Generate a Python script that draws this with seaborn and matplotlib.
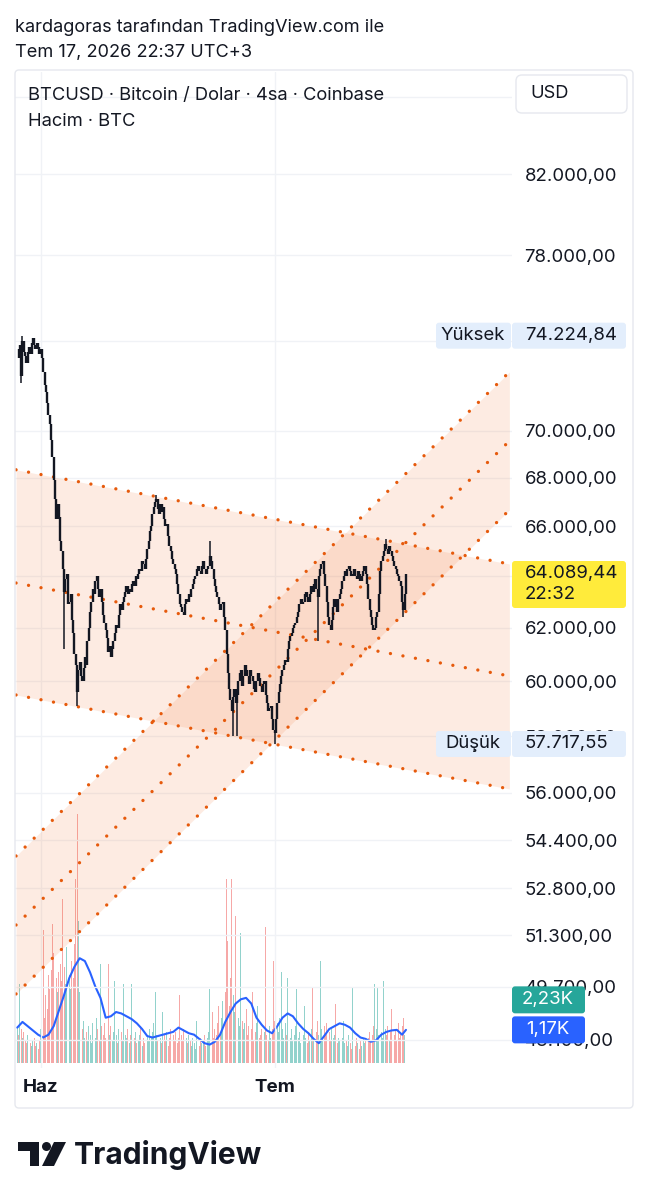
import matplotlib
matplotlib.use("Agg")
import matplotlib.pyplot as plt
import matplotlib.dates as mdates
from matplotlib.patches import FancyBboxPatch, Polygon, Circle
from matplotlib.ticker import NullLocator
import pandas as pd
import seaborn as sns

sns.set_theme(style="white")
plt.rcParams["font.family"] = ["Inter", "DejaVu Sans"]

# ---- data (prices in thousands USD, volume in thousands BTC) ----
first_candle = "2026-05-28 23:00"   # 4h candles, UTC+3

close_k = [
    73.6, 73.2, 73.8, 72.4, 74.0, 73.5, 73.3, 73.0, 73.5, 73.7,
    73.4, 73.9, 74.1, 73.8, 73.6, 73.9, 73.7, 73.4, 73.6, 73.2,
    72.6, 72.0, 71.7, 71.2, 70.7, 70.3, 69.6, 68.9, 67.9, 67.1,
    66.3, 66.9, 66.4, 65.4, 65.0, 64.3, 63.4, 63.9, 64.1, 62.9,
    63.0, 63.3, 62.3, 61.8, 61.0, 60.6, 59.6, 60.4, 60.7, 60.2,
    60.0, 60.5, 60.9, 60.6, 61.5, 62.0, 62.6, 63.0, 63.5, 63.3,
    63.8, 64.0, 63.5, 63.2, 63.5, 63.0, 62.5, 62.2, 61.9, 61.6,
    61.1, 61.3, 60.9, 61.2, 61.5, 61.8, 62.1, 62.0, 62.5, 62.9,
    62.7, 63.0, 63.2, 63.4, 63.6, 63.3, 63.5, 63.4, 63.7, 63.8,
    63.6, 64.0, 63.9, 64.1, 64.3, 64.2, 64.6, 64.5, 64.3, 64.7,
    65.1, 65.4, 65.8, 66.0, 66.5, 66.8, 67.0, 67.1, 66.7, 66.5,
    66.9, 66.6, 66.8, 66.3, 66.0, 66.1, 65.6, 65.2, 65.0, 64.7,
    64.5, 64.3, 64.1, 63.7, 63.3, 62.9, 62.8, 62.6, 62.5, 62.9,
    63.1, 63.0, 63.3, 63.2, 63.5, 63.7, 63.9, 64.0, 64.3, 64.4,
    64.2, 64.1, 64.4, 64.6, 64.3, 64.1, 64.3, 64.4, 64.8, 64.6,
    64.3, 63.9, 63.6, 63.4, 63.2, 62.9, 62.7, 62.9, 63.0, 62.4,
    61.9, 61.0, 60.3, 59.7, 59.3, 58.9, 59.4, 59.7, 59.2, 59.5,
    60.0, 60.3, 60.4, 59.8, 60.2, 60.6, 60.4, 60.2, 59.9, 60.4,
    60.2, 60.0, 59.7, 59.6, 60.0, 60.3, 60.1, 59.8, 59.6, 59.9,
    60.0, 59.5, 59.2, 58.9, 59.0, 59.1, 58.6, 58.2, 58.1, 58.6,
    59.2, 59.6, 59.9, 60.2, 60.4, 60.6, 60.8, 60.7, 61.2, 61.5,
    61.7, 61.8, 62.0, 62.1, 62.2, 62.4, 62.6, 62.9, 63.1, 62.9,
    63.0, 63.3, 63.4, 63.2, 63.0, 63.3, 63.6, 63.4, 63.7, 63.9,
    63.5, 63.2, 64.0, 64.3, 64.5, 64.6, 64.1, 63.6, 63.0, 62.4,
    62.1, 61.9, 62.3, 62.8, 63.1, 62.8, 62.6, 63.1, 63.3, 63.5,
    63.8, 64.0, 64.2, 64.0, 64.3, 64.4, 64.2, 64.0, 64.1, 64.3,
    64.0, 63.9, 64.2, 64.1, 63.8, 64.0, 64.2, 64.4, 64.1, 63.7,
    63.1, 62.7, 62.4, 62.1, 61.9, 62.0, 62.4, 62.6, 63.3, 64.2,
    64.6, 64.8, 65.0, 65.3, 65.1, 64.9, 65.2, 65.0, 64.8, 64.6,
    64.4, 64.3, 64.1, 64.0, 63.8, 63.6, 63.0, 62.7, 63.3, 64.08944,
]

# long wicks (candle index, wick end)
wick_idx = [3, 4, 36, 46, 107, 148, 166, 169, 198, 231, 284, 297]
wick_k = [72.1, 74.22484, 61.2, 59.1, 67.3, 65.4, 58.0, 58.0, 57.71755, 61.5, 65.5, 62.4]

volume_k = [
    1.3, 1.0, 2.8, 1.2, 0.9, 1.1, 0.8, 0.7, 1.0, 0.8,
    0.7, 0.6, 0.8, 0.9, 0.6, 0.7, 0.5, 0.8, 1.2, 0.9,
    4.7, 1.6, 2.4, 1.9, 3.1, 2.6, 3.3, 4.9, 3.9, 2.7,
    3.0, 2.5, 3.2, 3.5, 2.9, 5.8, 3.4, 2.8, 4.1, 5.2,
    3.1, 2.6, 3.6, 3.0, 4.2, 6.5, 8.8, 5.0, 2.5, 1.8,
    1.2, 1.5, 0.9, 1.1, 0.8, 1.3, 1.0, 0.7, 1.4, 1.1,
    0.9, 1.6, 1.2, 0.8, 3.5, 1.3, 1.0, 1.4, 0.9, 1.2,
    3.5, 1.0, 1.3, 0.8, 1.1, 2.9, 1.0, 0.7, 1.2, 0.9,
    1.1, 0.8, 2.8, 1.0, 0.9, 1.2, 0.7, 1.0, 2.8, 0.8,
    0.9, 1.1, 0.7, 0.8, 1.0, 1.3, 0.6, 0.9, 0.7, 0.8,
    1.0, 0.8, 1.2, 0.9, 1.1, 1.4, 2.5, 1.0, 0.8, 1.2,
    0.9, 0.7, 1.8, 1.0, 0.8, 1.1, 0.6, 0.9, 1.2, 3.0,
    1.0, 0.8, 1.1, 0.7, 0.9, 2.4, 1.0, 0.8, 1.2, 0.6,
    0.9, 0.7, 1.0, 0.8, 0.6, 0.9, 0.7, 0.5, 1.5, 0.8,
    0.6, 0.9, 0.7, 0.8, 1.0, 0.6, 0.9, 1.1, 2.6, 1.3,
    1.8, 0.9, 1.2, 1.0, 1.4, 2.0, 1.1, 1.6, 2.2, 1.8,
    2.5, 6.5, 4.3, 2.0, 3.0, 6.5, 2.4, 1.8, 5.2, 2.2,
    1.6, 1.3, 4.6, 1.5, 1.2, 1.4, 1.9, 1.0, 1.3, 0.9,
    1.2, 2.5, 0.8, 1.1, 1.4, 2.0, 0.9, 1.0, 1.2, 0.7,
    1.1, 4.8, 1.0, 0.8, 1.3, 0.9, 1.2, 3.6, 1.5, 1.9,
    1.4, 1.1, 1.6, 3.2, 1.2, 0.9, 1.4, 1.0, 3.0, 1.1,
    0.9, 1.2, 0.8, 1.0, 1.3, 2.6, 0.9, 1.1, 0.7, 0.8,
    1.0, 2.0, 0.9, 0.7, 1.1, 0.8, 1.2, 2.7, 0.9, 0.8,
    1.1, 1.5, 1.0, 3.6, 1.2, 0.9, 1.3, 1.0, 1.4, 3.0,
    1.1, 0.8, 1.2, 0.9, 1.0, 2.1, 0.7, 0.9, 0.8, 0.6,
    0.9, 1.5, 0.7, 0.8, 0.6, 1.0, 0.7, 0.5, 2.7, 0.8,
    0.6, 0.9, 0.7, 0.5, 0.8, 0.6, 0.9, 0.7, 0.8, 0.6,
    0.9, 1.1, 0.8, 1.0, 1.3, 2.8, 1.2, 2.7, 1.0, 1.4,
    1.1, 0.9, 2.9, 1.2, 1.0, 1.3, 0.8, 1.1, 1.9, 0.9,
    1.0, 1.2, 0.8, 1.4, 0.9, 1.1, 1.3, 1.6, 1.0, 2.23,
]

# volume moving average, read every 4th candle plus the last one
vol_ma_k = [
    1.25, 1.45, 1.3, 1.15, 1.0, 0.9, 1.0, 1.3, 1.85, 2.4,
    3.0, 3.4, 3.7, 3.6, 3.2, 2.7, 2.3, 1.6, 1.65, 1.8,
    1.75, 1.65, 1.55, 1.4, 1.2, 0.95, 0.9, 0.95, 1.0, 1.05,
    1.1, 1.25, 1.15, 1.05, 1.0, 0.85, 0.7, 0.65, 0.75, 1.0,
    1.45, 1.8, 2.1, 2.25, 2.3, 2.1, 1.6, 1.35, 1.15, 1.05,
    1.3, 1.6, 1.75, 1.65, 1.4, 1.2, 1.05, 0.85, 0.7, 0.95,
    1.2, 1.3, 1.4, 1.35, 1.25, 1.05, 0.9, 0.85, 0.75, 0.8,
    1.0, 1.1, 1.15, 1.17, 1.0,
    1.17,
]

# two parallel channels drawn on the chart (start / end)
chan_dates = ["2026-05-28 19:10", "2026-07-31 01:10"]
desc_upper = [68340, 64486]
desc_mid = [63735, 60187]
desc_lower = [59486, 56140]
asc_upper = [53869, 72583]
asc_mid = [51626, 69562]
asc_lower = [49479, 66667]

price_ticks = [86000, 82000, 78000, 74000, 70000, 68000, 66000, 64000, 62000,
               60000, 58000, 56000, 54400, 52800, 51300, 49700, 48100]
hidden_ticks = [86000, 74000, 64000]   # fully covered by the USD box / price tags
month_ticks = ["2026-06-01", "2026-07-01"]
month_labels = ["Haz", "Tem"]

high_price = 74224.84
low_price = 57717.55
last_price = 64089.44
countdown = "22:32"
last_vol = "2,23K"
last_ma = "1,17K"

title_lines = ["kardagoras tarafından TradingView.com ile", "Tem 17, 2026 22:37 UTC+3"]
legend_lines = ["BTCUSD · Bitcoin / Dolar · 4sa · Coinbase", "Hacim · BTC"]

TXT = "#131722"
GRID = "#f0f2f6"
ORANGE = "#e65a0c"
FS = 13.4


def tr_fmt(v):
    s = f"{v:,.2f}"
    return s.replace(",", "X").replace(".", ",").replace("X", ".")


W, H = 649, 1200
fig = plt.figure(figsize=(W / 100, H / 100), dpi=100)
fig.patch.set_facecolor("white")

# chart pane (pixel box 15..512 x 72..1068)
ax = fig.add_axes([15 / W, 1 - 1068 / H, (512 - 15) / W, (1068 - 72) / H])
axv = ax.twinx()
axv.set_zorder(1)
ax.set_zorder(2)
ax.patch.set_visible(False)

times = pd.date_range(first_candle, periods=len(close_k), freq="4h")
close = [c * 1000 for c in close_k]
opens = [close[0]] + close[:-1]
lo = [min(o, c) for o, c in zip(opens, close)]
hi = [max(o, c) for o, c in zip(opens, close)]

day0 = mdates.date2num(pd.Timestamp("2026-06-01"))
ppd = (275 - 41) / 30.0
ax.set_xlim(day0 + (15 - 41) / ppd, day0 + (512 - 41) / ppd)
ax.set_yscale("log")
ax.set_ylim(47272, 87319)
axv.set_ylim(-0.177, 35.0)

# channels
cx = pd.to_datetime(chan_dates)
for up, mid, low in [(desc_upper, desc_mid, desc_lower), (asc_upper, asc_mid, asc_lower)]:
    ax.fill_between(cx, low, up, color="#f26b21", alpha=0.13, lw=0, zorder=1)
    for vals in (up, mid, low):
        ax.plot(cx, vals, color=ORANGE, lw=2.4, ls=(0, (0.01, 3.8)),
                dash_capstyle="round", zorder=3)

# candles
ax.vlines(times, lo, hi, color=TXT, lw=1.7, zorder=5)
ax.vlines(times[wick_idx], [close[i] for i in wick_idx], [w * 1000 for w in wick_k],
          color=TXT, lw=1.1, zorder=5)

# volume
vcolors = ["#26a69a" if c >= o else "#ef5350" for o, c in zip(opens, close)]
axv.bar(times, volume_k, width=2.8 / 24, color=vcolors, alpha=0.5, lw=0)
ma_idx = list(range(0, len(close_k), 4)) + [len(close_k) - 1]
sns.lineplot(x=times[ma_idx], y=vol_ma_k, ax=axv, color="#2962ff", lw=1.5)

# axes styling
ax.set_yticks(price_ticks)
ax.set_yticklabels(["" if v in hidden_ticks else tr_fmt(v) for v in price_ticks])
ax.yaxis.set_minor_locator(NullLocator())
ax.yaxis.tick_right()
ax.tick_params(axis="y", length=0, pad=9, labelsize=FS, labelcolor=TXT)
ax.set_xticks(pd.to_datetime(month_ticks))
ax.set_xticklabels(month_labels, fontweight="bold")
ax.tick_params(axis="x", length=0, pad=8, labelsize=13.5, labelcolor=TXT)
ax.grid(True, color=GRID, lw=1)
axv.set_yticks([])
axv.grid(False)
for a in (ax, axv):
    for s in a.spines.values():
        s.set_visible(False)
    a.set_xlabel("")
    a.set_ylabel("")

# overlay in pixel coordinates
ov = fig.add_axes([0, 0, 1, 1], zorder=10)
ov.set_xlim(0, W)
ov.set_ylim(H, 0)
ov.axis("off")
ov.patch.set_visible(False)


def py(a, v):
    return H - a.transData.transform((a.get_xlim()[0], v))[1]


ov.add_patch(FancyBboxPatch((15, 70), 618, 1038, boxstyle="round,pad=0,rounding_size=4",
                            fc="none", ec="#e6e8ee", lw=1))
ov.text(15, 27, title_lines[0], fontsize=13.1, color=TXT, va="center")
ov.text(15, 52, title_lines[1], fontsize=13.1, color=TXT, va="center")
ov.text(28, 95, legend_lines[0], fontsize=13.2, color=TXT, va="center")
ov.text(28, 121, legend_lines[1], fontsize=13.2, color=TXT, va="center")
ov.add_patch(FancyBboxPatch((516, 75), 111, 38, boxstyle="round,pad=0,rounding_size=6",
                            fc="white", ec="#e6e8ee", lw=1))
ov.text(530, 94, "USD", fontsize=13.2, color=TXT, va="center")

LB = "#e3eefc"


def tag(y, value, name=None):
    if name:
        ov.add_patch(FancyBboxPatch((436, y - 13), 75, 26, boxstyle="round,pad=0,rounding_size=3",
                                    fc=LB, ec="none"))
        ov.text(473, y, name, fontsize=FS, color=TXT, va="center", ha="center")
    ov.add_patch(FancyBboxPatch((512, y - 13), 114, 26, boxstyle="round,pad=0,rounding_size=3",
                                fc=LB, ec="none"))
    ov.text(525, y, tr_fmt(value), fontsize=FS, color=TXT, va="center")


tag(py(ax, high_price), high_price, "Yüksek")
tag(py(ax, low_price), low_price, "Düşük")

yl = py(ax, last_price)
ov.add_patch(FancyBboxPatch((512, yl - 13), 114, 47, boxstyle="round,pad=0,rounding_size=3",
                            fc="#ffeb3b", ec="none"))
ov.text(525, yl, tr_fmt(last_price), fontsize=FS, color=TXT, va="center")
ov.text(525, yl + 21, countdown, fontsize=FS, color=TXT, va="center")

yv = py(axv, volume_k[-1])
ov.add_patch(FancyBboxPatch((512, yv - 13.5), 73, 27, boxstyle="round,pad=0,rounding_size=3",
                            fc="#26a69a", ec="none"))
ov.text(548, yv, last_vol, fontsize=FS, color="white", va="center", ha="center")
ym = py(axv, vol_ma_k[-1])
ov.add_patch(FancyBboxPatch((512, ym - 13.5), 73, 27, boxstyle="round,pad=0,rounding_size=3",
                            fc="#2962ff", ec="none"))
ov.text(548, ym, last_ma, fontsize=FS, color="white", va="center", ha="center")

# TradingView logo
ov.add_patch(Polygon([(18, 1142), (39, 1142), (39, 1166), (30, 1166), (30, 1151), (18, 1151)],
                     closed=True, fc="#131722", ec="none"))
ov.add_patch(Circle((46.5, 1146.5), 4.5, fc="#131722", ec="none"))
ov.add_patch(Polygon([(54, 1142), (66, 1142), (54, 1166), (42, 1166)], closed=True,
                     fc="#131722", ec="none"))
ov.text(74, 1155, "TradingView", fontsize=21.6, fontweight="bold", color="#131722", va="center")

fig.savefig("out.png", dpi=100, facecolor="white")
